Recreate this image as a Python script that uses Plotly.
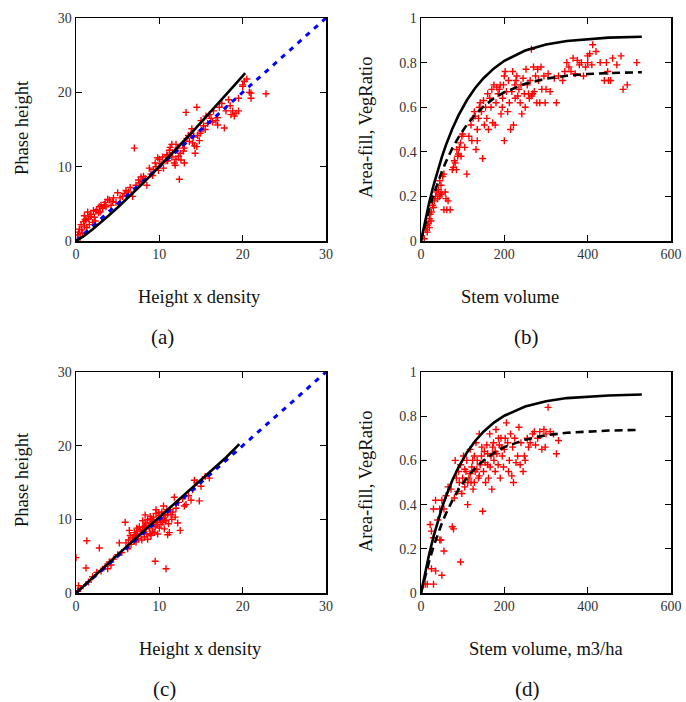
import plotly.graph_objects as go

W, H = 686, 702

# ---------------- Panel (a) ----------------
a_pts_x = [0.2, 0.3, 0.5, 0.8, 1.0, 0.6, 1.0, 1.2, 1.5, 1.8, 2.0, 2.2, 2.5, 2.8, 3.0, 2.4, 1.6, 1.3,
           3.5, 3.8, 4.0, 4.2, 4.5, 5.0, 3.2, 4.8, 5.3, 5.6, 6.0, 6.3, 6.8, 7.0, 7.5, 7.8, 8.0, 8.3,
           7.2, 6.5, 8.5, 9.0, 9.2, 9.5, 9.8, 9.9, 8.8, 9.6, 10.0, 10.2, 10.5, 10.8, 11.0, 11.2, 11.5,
           11.8, 12.0, 12.2, 12.5, 12.8, 13.0, 11.5, 12.0, 12.4, 11.0, 11.3, 12.6, 13.0, 13.3, 13.5,
           13.8, 14.0, 14.2, 14.5, 14.8, 15.0, 15.3, 15.5, 14.6, 13.2, 14.5, 14.3, 15.0, 15.8, 16.0,
           16.2, 16.5, 16.8, 17.0, 17.2, 17.5, 17.8, 18.0, 18.3, 18.5, 18.8, 19.0, 19.2, 19.5, 17.0,
           19.5, 20.0, 20.2, 20.5, 20.8, 21.0, 20.0, 21.0, 22.8, 10.4, 11.6, 12.9, 13.6, 14.1, 14.9,
           10.9, 11.9, 9.3, 8.1, 2.7, 1.1, 0.4, 3.4, 4.4, 5.8, 7.6, 12.3, 13.9, 15.6, 16.4, 18.6,
           0.9, 1.7, 2.1, 2.9, 3.6, 0.7, 1.4, 2.3]
a_pts_y = [0.8, 1.2, 0.5, 1.0, 2.0, 2.2, 3.4, 2.8, 3.0, 3.6, 2.5, 3.2, 4.2, 4.6, 4.8, 4.0, 2.2, 1.8,
           5.2, 5.6, 5.5, 4.8, 5.8, 6.5, 4.4, 5.2, 5.8, 6.0, 6.8, 6.6, 6.0, 12.5, 8.2, 8.6, 8.0, 8.4,
           7.5, 7.2, 7.5, 9.0, 8.8, 10.5, 11.2, 9.5, 9.8, 10.0, 11.0, 10.4, 9.8, 10.8, 11.5, 12.2, 11.3,
           10.5, 11.0, 12.5, 11.8, 13.0, 12.5, 13.0, 13.0, 8.3, 10.8, 12.6, 10.9, 10.5, 13.8, 14.2,
           14.5, 13.2, 12.8, 12.7, 13.5, 14.8, 15.5, 15.0, 14.2, 17.3, 18.0, 11.8, 16.2, 15.8, 17.0,
           16.5, 17.5, 16.2, 16.6, 18.0, 18.5, 15.2, 17.5, 19.0, 18.2, 17.5, 16.8, 17.2, 17.5, 15.6,
           19.2, 21.0, 21.5, 21.8, 20.0, 19.2, 20.8, 19.9, 19.8, 11.3, 11.9, 12.1, 13.4, 14.0, 14.5,
           11.6, 10.2, 9.6, 8.7, 3.8, 2.9, 1.6, 4.9, 5.3, 6.4, 7.8, 11.4, 15.1, 16.8, 16.0, 17.0,
           2.6, 3.3, 4.1, 3.9, 4.6, 1.5, 3.9, 2.7]
a_fit_x = [0, 1, 2, 3, 4, 5, 6, 7, 8, 9, 10, 11, 12, 13, 14, 15, 16, 17, 18, 19, 20.3]
a_fit_y = [0, 0.71, 1.57, 2.50, 3.49, 4.51, 5.56, 6.63, 7.74, 8.86, 10.0, 11.16, 12.33, 13.52,
           14.72, 15.94, 17.17, 18.41, 19.66, 20.93, 22.58]
one2one_x = [0, 30]
one2one_y = [0, 30]

# ---------------- Panel (b) ----------------
b_pts_x = [8, 12, 15, 18, 20, 22, 25, 28, 30, 15, 20, 24, 32, 35, 38, 40, 42, 45, 48, 50, 52, 55, 58,
           60, 62, 55, 47, 44, 65, 70, 75, 78, 80, 82, 85, 88, 90, 92, 95, 98, 100, 96, 86, 105, 110,
           115, 120, 122, 125, 128, 130, 132, 135, 138, 140, 142, 145, 148, 150, 135, 152, 155, 158,
           160, 162, 165, 168, 170, 172, 175, 178, 180, 182, 185, 188, 190, 192, 195, 198, 200, 200,
           196, 202, 205, 208, 210, 212, 215, 218, 220, 222, 225, 228, 230, 232, 235, 238, 240, 242,
           245, 248, 250, 226, 252, 255, 258, 260, 262, 265, 268, 270, 272, 275, 278, 280, 282, 285,
           288, 290, 295, 298, 300, 305, 310, 320, 325, 330, 340, 345, 350, 355, 360, 365, 370, 375,
           380, 385, 390, 395, 400, 405, 410, 412, 420, 430, 440, 445, 448, 455, 460, 470, 480, 485,
           495, 518, 400, 450, 265]
b_pts_y = [0.01, 0.05, 0.04, 0.08, 0.10, 0.12, 0.13, 0.16, 0.15, 0.07, 0.06, 0.09, 0.18, 0.20, 0.22,
           0.19, 0.23, 0.27, 0.25, 0.21, 0.29, 0.30, 0.22, 0.19, 0.14, 0.14, 0.21, 0.20, 0.18, 0.14,
           0.32, 0.33, 0.36, 0.35, 0.32, 0.38, 0.39, 0.42, 0.44, 0.47, 0.48, 0.38, 0.41, 0.42, 0.30,
           0.47, 0.52, 0.45, 0.55, 0.58, 0.56, 0.41, 0.50, 0.55, 0.60, 0.62, 0.58, 0.37, 0.63, 0.45,
           0.52, 0.60, 0.55, 0.66, 0.50, 0.64, 0.60, 0.68, 0.53, 0.70, 0.52, 0.62, 0.69, 0.66, 0.68,
           0.70, 0.57, 0.60, 0.70, 0.45, 0.74, 0.64, 0.76, 0.67, 0.58, 0.72, 0.62, 0.50, 0.67, 0.76,
           0.52, 0.70, 0.72, 0.74, 0.65, 0.68, 0.62, 0.70, 0.57, 0.73, 0.66, 0.60, 0.64, 0.77, 0.70,
           0.66, 0.64, 0.72, 0.65, 0.66, 0.78, 0.67, 0.74, 0.62, 0.77, 0.72, 0.62, 0.78, 0.68, 0.74,
           0.62, 0.68, 0.75, 0.67, 0.73, 0.62, 0.74, 0.72, 0.76, 0.80, 0.78, 0.76, 0.82, 0.75, 0.81,
           0.79, 0.80, 0.74, 0.78, 0.83, 0.84, 0.79, 0.88, 0.85, 0.80, 0.72, 0.80, 0.76, 0.72, 0.82,
           0.79, 0.83, 0.68, 0.70, 0.80, 0.80, 0.72, 0.86]
b_fit_x = [0, 10, 20, 30, 40, 50, 60, 75, 90, 110, 130, 150, 175, 200, 250, 300, 350, 400, 450, 530]
b_solid_y = [0, 0.092, 0.175, 0.249, 0.316, 0.376, 0.431, 0.502, 0.563, 0.631, 0.686, 0.730, 0.774,
             0.808, 0.854, 0.881, 0.897, 0.906, 0.912, 0.916]
b_dash_y = [0, 0.076, 0.144, 0.206, 0.261, 0.311, 0.356, 0.415, 0.465, 0.521, 0.567, 0.603, 0.640,
            0.667, 0.705, 0.728, 0.741, 0.749, 0.753, 0.757]

# ---------------- Panel (c) ----------------
c_pts_x = [0.2, 0.5, 0.3, 0.0, 1.3, 2.8, 1.2, 2.0, 1.5, 3.0, 3.5, 4.0, 4.2, 3.8, 2.5, 4.5, 5.0, 5.2,
           5.9, 5.5, 6.0, 6.3, 6.5, 6.8, 7.0, 7.2, 7.3, 7.5, 7.6, 7.8, 8.0, 8.0, 8.2, 8.3, 8.5, 8.6,
           8.8, 9.0, 9.0, 9.2, 9.3, 9.5, 9.5, 9.6, 9.8, 10.0, 10.0, 10.2, 10.3, 10.5, 10.6, 10.8, 10.8,
           11.0, 11.0, 11.2, 11.3, 11.5, 11.8, 12.0, 12.3, 12.5, 12.8, 13.0, 13.5, 14.0, 14.2, 14.5,
           14.8, 15.0, 15.5, 16.0, 13.2, 13.8, 6.2, 6.6, 7.1, 7.4, 7.9, 8.1, 8.4, 8.7, 8.9, 9.1, 9.4,
           9.7, 9.9, 10.1, 10.4, 10.7, 10.9, 11.1, 11.4, 11.6, 9.8, 8.6, 7.7, 7.0, 6.4, 8.3, 9.6, 10.5,
           11.9, 12.2, 7.3, 8.9, 9.2, 10.2, 9.0, 8.2, 10.6, 6.9]
c_pts_y = [0.3, 0.6, 1.0, 4.8, 7.1, 6.1, 3.4, 2.2, 1.5, 3.0, 3.6, 4.2, 3.8, 3.3, 2.8, 4.6, 5.2, 6.8,
           9.6, 5.5, 6.8, 7.2, 7.8, 7.5, 8.2, 6.9, 8.8, 7.4, 9.0, 8.0, 8.5, 9.8, 7.6, 9.2, 8.0, 10.0,
           8.7, 9.5, 7.8, 8.4, 10.3, 9.0, 4.3, 10.8, 9.6, 8.8, 10.5, 9.3, 11.0, 10.2, 8.7, 3.3, 9.8,
           10.7, 7.9, 8.2, 11.3, 10.0, 13.0, 11.5, 12.3, 8.5, 12.8, 11.8, 13.2, 14.0, 15.3, 15.0,
           12.5, 14.5, 15.8, 15.6, 12.0, 12.6, 6.0, 6.6, 7.9, 8.4, 7.2, 8.9, 9.5, 9.1, 10.4, 9.9, 8.2,
           9.3, 10.9, 9.9, 9.6, 10.5, 11.3, 9.4, 10.6, 11.0, 8.0, 7.3, 8.6, 7.1, 8.5, 10.6, 11.3, 11.8,
           10.3, 9.5, 7.7, 8.0, 9.7, 10.0, 10.1, 9.0, 9.9, 7.0]
c_fit_x = [0, 2, 4, 6, 8, 10, 12, 14, 16, 18, 19.6]
c_fit_y = [0, 2.1, 4.2, 6.3, 8.3, 10.3, 12.3, 14.3, 16.4, 18.4, 20.2]

# ---------------- Panel (d) ----------------
d_pts_x = [10, 15, 30, 25, 35, 50, 95, 55, 45, 48, 30, 25, 22, 30, 40, 45, 35, 50, 55, 60, 65, 72, 75,
           78, 80, 82, 85, 88, 90, 92, 95, 98, 100, 102, 105, 108, 110, 112, 115, 118, 120, 122, 125,
           128, 130, 132, 135, 138, 140, 142, 145, 148, 150, 152, 155, 158, 160, 162, 165, 168, 170,
           172, 175, 178, 180, 182, 185, 188, 190, 192, 195, 198, 200, 205, 208, 210, 212, 215, 218,
           220, 222, 225, 228, 232, 235, 238, 240, 245, 248, 250, 255, 258, 262, 268, 272, 275, 280,
           285, 290, 295, 298, 300, 305, 310, 318, 325, 330, 105, 112, 118, 124, 128, 134, 140, 146,
           154, 160, 166, 174, 178, 186, 194, 202]
d_pts_y = [0.04, 0.04, 0.04, 0.11, 0.10, 0.08, 0.14, 0.19, 0.24, 0.24, 0.25, 0.28, 0.31, 0.38, 0.33,
           0.38, 0.42, 0.42, 0.38, 0.44, 0.48, 0.47, 0.30, 0.29, 0.43, 0.60, 0.52, 0.46, 0.55, 0.50,
           0.58, 0.45, 0.52, 0.62, 0.48, 0.55, 0.60, 0.40, 0.52, 0.65, 0.50, 0.57, 0.47, 0.62, 0.55,
           0.68, 0.60, 0.52, 0.72, 0.58, 0.62, 0.37, 0.55, 0.64, 0.50, 0.67, 0.58, 0.52, 0.72, 0.62,
           0.47, 0.66, 0.60, 0.55, 0.74, 0.63, 0.58, 0.67, 0.52, 0.70, 0.62, 0.57, 0.65, 0.77, 0.68,
           0.55, 0.60, 0.72, 0.53, 0.66, 0.50, 0.70, 0.59, 0.62, 0.75, 0.58, 0.68, 0.55, 0.62, 0.60,
           0.70, 0.66, 0.68, 0.72, 0.73, 0.67, 0.70, 0.73, 0.65, 0.74, 0.66, 0.72, 0.84, 0.73, 0.72,
           0.63, 0.69, 0.56, 0.50, 0.54, 0.60, 0.50, 0.56, 0.53, 0.66, 0.59, 0.63, 0.57, 0.68, 0.64,
           0.70, 0.66, 0.70]
d_solid_x = [0, 10, 20, 30, 40, 50, 60, 75, 90, 110, 130, 150, 175, 200, 250, 300, 350, 400, 450, 530]
d_solid_y = [0, 0.095, 0.179, 0.255, 0.323, 0.384, 0.438, 0.509, 0.569, 0.635, 0.688, 0.730, 0.771,
             0.802, 0.844, 0.868, 0.882, 0.889, 0.894, 0.898]
d_dash_x = [0, 10, 20, 30, 40, 50, 60, 75, 90, 110, 130, 150, 175, 200, 250, 300, 350, 400, 450, 518]
d_dash_y = [0, 0.078, 0.147, 0.210, 0.266, 0.315, 0.360, 0.418, 0.468, 0.522, 0.565, 0.600, 0.634,
            0.660, 0.694, 0.714, 0.725, 0.731, 0.735, 0.738]

# ---------------- Text ----------------
xtitles = ["Height x density", "Stem volume", "Height x density", "Stem volume, m3/ha"]
ytitles = ["Phase height", "Area-fill, VegRatio", "Phase height", "Area-fill, VegRatio"]
panel_tags = ["(a)", "(b)", "(c)", "(d)"]
ht_ticks = [0, 10, 20, 30]
vol_ticks = [0, 200, 400, 600]
ratio_ticks = [0, 0.2, 0.4, 0.6, 0.8, 1]

FONT = "Liberation Serif"
RED = "#ff0000"
BLUE = "#0000ff"

fig = go.Figure()

def scatter(x, y, ax):
    fig.add_trace(go.Scatter(x=x, y=y, mode="markers", xaxis=ax[0], yaxis=ax[1],
                             marker=dict(symbol="cross-thin", size=5, color=RED,
                                         line=dict(color=RED, width=1.4)),
                             showlegend=False, hoverinfo="skip"))

def line(x, y, ax, color, dash, width):
    fig.add_trace(go.Scatter(x=x, y=y, mode="lines", xaxis=ax[0], yaxis=ax[1],
                             line=dict(color=color, dash=dash, width=width),
                             showlegend=False, hoverinfo="skip"))

# (a)
scatter(a_pts_x, a_pts_y, ("x", "y"))
line(one2one_x, one2one_y, ("x", "y"), BLUE, "5px,6px", 3)
line(a_fit_x, a_fit_y, ("x", "y"), "black", "solid", 2.6)
# (b)
scatter(b_pts_x, b_pts_y, ("x2", "y2"))
line(b_fit_x, b_solid_y, ("x2", "y2"), "black", "solid", 2.6)
line(b_fit_x, b_dash_y, ("x2", "y2"), "black", "8px,5px", 2.6)
# (c)
scatter(c_pts_x, c_pts_y, ("x3", "y3"))
line(one2one_x, one2one_y, ("x3", "y3"), BLUE, "5px,6px", 3)
line(c_fit_x, c_fit_y, ("x3", "y3"), "black", "solid", 2.6)
# (d)
scatter(d_pts_x, d_pts_y, ("x4", "y4"))
line(d_solid_x, d_solid_y, ("x4", "y4"), "black", "solid", 2.6)
line(d_dash_x, d_dash_y, ("x4", "y4"), "black", "8px,5px", 2.6)

def px_x(p):
    return p / W

def px_y(p):
    return 1 - p / H

col_dom = [(76, 326), (421, 671)]
row_dom = [(18, 241), (372, 593)]

def axis_style(rng, ticks, dom, anchor):
    return dict(range=rng, tickvals=ticks, domain=dom, anchor=anchor,
                showline=True, linecolor="black", linewidth=1.5, mirror="allticks",
                ticks="inside", ticklen=6, tickwidth=1.3, tickcolor="black",
                showgrid=False, zeroline=False,
                tickfont=dict(family=FONT, size=14, color="#333333"))

layout_axes = {}
specs = [
    (0, 0, [0, 30], ht_ticks, [0, 30], ht_ticks),
    (1, 0, [0, 600], vol_ticks, [0, 1], ratio_ticks),
    (0, 1, [0, 30], ht_ticks, [0, 30], ht_ticks),
    (1, 1, [0, 600], vol_ticks, [0, 1], ratio_ticks),
]
for i, (c, r, xr, xt, yr, yt) in enumerate(specs):
    n = "" if i == 0 else str(i + 1)
    xd = [px_x(col_dom[c][0]), px_x(col_dom[c][1])]
    yd = [px_y(row_dom[r][1]), px_y(row_dom[r][0])]
    layout_axes["xaxis" + n] = axis_style(xr, xt, xd, "y" + n)
    layout_axes["yaxis" + n] = axis_style(yr, yt, yd, "x" + n)

annotations = []
xtitle_pos = [(199, 297), (510, 297), (200, 649), (546, 649)]
ytitle_pos = [(22, 128), (366, 128), (22, 480), (366, 482)]
tag_pos = [(162, 337), (526, 337), (164, 689), (527, 689)]
for i in range(4):
    annotations.append(dict(text=xtitles[i], x=px_x(xtitle_pos[i][0]), y=px_y(xtitle_pos[i][1]),
                            xref="paper", yref="paper", showarrow=False,
                            xanchor="center", yanchor="middle",
                            font=dict(family=FONT, size=18.5, color="#111111")))
    annotations.append(dict(text=ytitles[i], x=px_x(ytitle_pos[i][0]), y=px_y(ytitle_pos[i][1]),
                            xref="paper", yref="paper", showarrow=False, textangle=-90,
                            xanchor="center", yanchor="middle",
                            font=dict(family=FONT, size=18.5, color="#111111")))
    annotations.append(dict(text=panel_tags[i], x=px_x(tag_pos[i][0]), y=px_y(tag_pos[i][1]),
                            xref="paper", yref="paper", showarrow=False,
                            xanchor="center", yanchor="middle",
                            font=dict(family=FONT, size=21, color="#111111")))

fig.update_layout(width=W, height=H, margin=dict(l=0, r=0, t=0, b=0, autoexpand=False),
                  paper_bgcolor="white", plot_bgcolor="white",
                  font=dict(family=FONT),
                  annotations=annotations, **layout_axes)

# remove the default 8px page margin and scrollbars so the figure fills the window exactly
fig.write_html("out.html",
               config={"displayModeBar": False, "staticPlot": True},
               post_script="document.documentElement.style.margin='0';"
                           "document.body.style.margin='0';"
                           "document.documentElement.style.overflow='hidden';"
                           "document.body.style.overflow='hidden';")
